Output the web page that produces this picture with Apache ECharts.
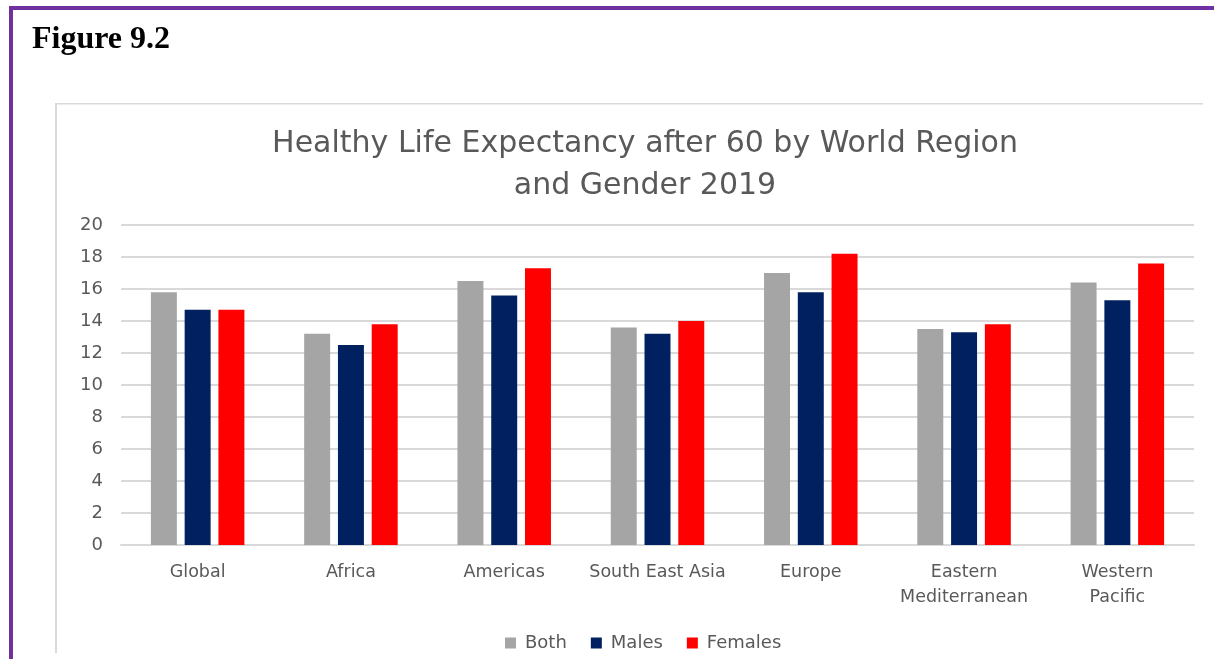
<!DOCTYPE html>
<html>
<head>
<meta charset="utf-8">
<script src="https://cdn.jsdelivr.net/npm/echarts@6/dist/echarts.min.js"></script>
<style>
html,body{margin:0;padding:0;background:#fff;}
#c{width:1214px;height:659px;}
</style>
</head>
<body>
<div id="c"></div>
<script>
var categories = ['Global', 'Africa', 'Americas', 'South East Asia', 'Europe', 'Eastern\nMediterranean', 'Western\nPacific'];
var both = [15.8, 13.2, 16.5, 13.6, 17.0, 13.5, 16.4];
var males = [14.7, 12.5, 15.6, 13.2, 15.8, 13.3, 15.3];
var females = [14.7, 13.8, 17.3, 14.0, 18.2, 13.8, 17.6];
var seriesNames = ['Both', 'Males', 'Females'];
var yTicks = { min: 0, max: 20, interval: 2 };

var txt = '#595959';
var font = 'DejaVu Sans';
var chart = echarts.init(document.getElementById('c'));
chart.setOption({
  animation: false,
  backgroundColor: '#fff',
  title: {
    text: 'Healthy Life Expectancy after 60 by World Region\nand Gender 2019',
    left: 640, top: 118, textAlign: 'center',
    textStyle: { fontFamily: font, fontSize: 30, fontWeight: 'normal', color: txt, lineHeight: 42 }
  },
  legend: {
    data: seriesNames, left: 500, top: 629,
    itemWidth: 11, itemHeight: 11, itemGap: 24,
    icon: 'rect',
    textStyle: { fontFamily: font, fontSize: 18, color: txt, padding: [0, 0, 0, 4] }
  },
  grid: { left: 121, right: 20, top: 225, bottom: 114, containLabel: false },
  xAxis: {
    type: 'category', data: categories,
    axisLine: { lineStyle: { color: '#d9d9d9', width: 2 } },
    axisTick: { show: false },
    axisLabel: { interval: 0, hideOverlap: false, fontFamily: font, fontSize: 17.5, color: txt, margin: 15, lineHeight: 25 }
  },
  yAxis: {
    type: 'value', min: yTicks.min, max: yTicks.max, interval: yTicks.interval,
    axisLine: { show: false }, axisTick: { show: false },
    splitLine: { lineStyle: { color: '#d9d9d9', width: 2 } },
    axisLabel: { fontFamily: font, fontSize: 18, color: txt, margin: 18 }
  },
  series: [
    { name: seriesNames[0], type: 'bar', data: both, itemStyle: { color: '#a5a5a5' }, barGap: '30%', barCategoryGap: '39%' },
    { name: seriesNames[1], type: 'bar', data: males, itemStyle: { color: '#002060' }, barGap: '30%', barCategoryGap: '39%' },
    { name: seriesNames[2], type: 'bar', data: females, itemStyle: { color: '#ff0000' }, barGap: '30%', barCategoryGap: '39%' }
  ],
  graphic: [
    { type: 'rect', shape: { x: 9, y: 6, width: 1205, height: 4 }, style: { fill: '#7030a0' }, silent: true },
    { type: 'rect', shape: { x: 9, y: 6, width: 4, height: 653 }, style: { fill: '#7030a0' }, silent: true },
    { type: 'rect', shape: { x: 55, y: 103, width: 1148, height: 1.5 }, style: { fill: '#d9d9d9' }, silent: true },
    { type: 'rect', shape: { x: 55, y: 103, width: 2, height: 550 }, style: { fill: '#d9d9d9' }, silent: true },
    { type: 'text', left: 32, top: 24, style: { text: 'Figure 9.2', font: 'bold 32px "Liberation Serif"', fill: '#000' } }
  ]
});
</script>
</body>
</html>
